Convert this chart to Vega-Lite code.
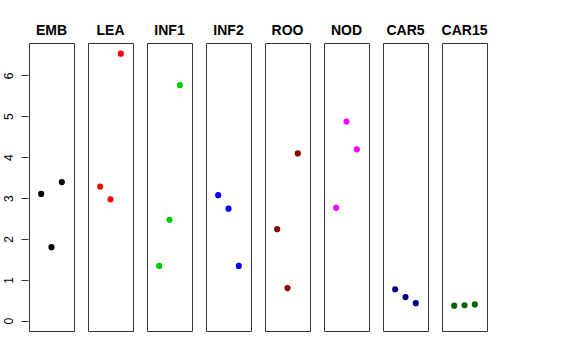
{
  "$schema": "https://vega.github.io/schema/vega-lite/v6.json",
  "background": "white",
  "padding": {"left": 2, "top": 24, "right": 5, "bottom": 5},
  "data": {"values": [
    {"panel": "EMB", "i": 1, "v": 3.10}, {"panel": "EMB", "i": 2, "v": 1.80}, {"panel": "EMB", "i": 3, "v": 3.39},
    {"panel": "LEA", "i": 1, "v": 3.28}, {"panel": "LEA", "i": 2, "v": 2.97}, {"panel": "LEA", "i": 3, "v": 6.53},
    {"panel": "INF1", "i": 1, "v": 1.34}, {"panel": "INF1", "i": 2, "v": 2.47}, {"panel": "INF1", "i": 3, "v": 5.76},
    {"panel": "INF2", "i": 1, "v": 3.07}, {"panel": "INF2", "i": 2, "v": 2.74}, {"panel": "INF2", "i": 3, "v": 1.34},
    {"panel": "ROO", "i": 1, "v": 2.24}, {"panel": "ROO", "i": 2, "v": 0.80}, {"panel": "ROO", "i": 3, "v": 4.09},
    {"panel": "NOD", "i": 1, "v": 2.76}, {"panel": "NOD", "i": 2, "v": 4.87}, {"panel": "NOD", "i": 3, "v": 4.19},
    {"panel": "CAR5", "i": 1, "v": 0.77}, {"panel": "CAR5", "i": 2, "v": 0.58}, {"panel": "CAR5", "i": 3, "v": 0.43},
    {"panel": "CAR15", "i": 1, "v": 0.37}, {"panel": "CAR15", "i": 2, "v": 0.38}, {"panel": "CAR15", "i": 3, "v": 0.40}
  ]},
  "facet": {
    "column": {
      "field": "panel", "type": "nominal",
      "sort": ["EMB", "LEA", "INF1", "INF2", "ROO", "NOD", "CAR5", "CAR15"],
      "title": null,
      "header": {"labelFontWeight": "bold", "labelFontSize": 14, "labelFont": "Liberation Sans", "labelColor": "black", "labelPadding": 4}
    }
  },
  "spacing": 12,
  "spec": {
    "width": 45,
    "height": 288,
    "mark": {"type": "circle", "size": 38, "opacity": 1},
    "encoding": {
      "x": {"field": "i", "type": "quantitative", "scale": {"domain": [-0.18, 4.18], "nice": false, "zero": false}, "axis": null},
      "y": {"field": "v", "type": "quantitative", "scale": {"domain": [-0.25, 6.79], "nice": false, "zero": false},
        "axis": {"title": null, "values": [0, 1, 2, 3, 4, 5, 6], "grid": false, "labelAngle": -90, "labelAlign": "center", "labelBaseline": "bottom", "labelFont": "Liberation Sans", "labelFontSize": 12, "labelColor": "black", "tickSize": 7, "tickColor": "#333", "domain": false, "labelPadding": 6}},
      "color": {"field": "panel", "type": "nominal", "legend": null,
        "scale": {"domain": ["EMB", "LEA", "INF1", "INF2", "ROO", "NOD", "CAR5", "CAR15"],
          "range": ["#000000", "#FF0000", "#00CD00", "#0000FF", "#8B0000", "#FF00FF", "#000080", "#006400"]}}
    }
  },
  "config": {"view": {"stroke": "#333", "strokeWidth": 1}}
}
